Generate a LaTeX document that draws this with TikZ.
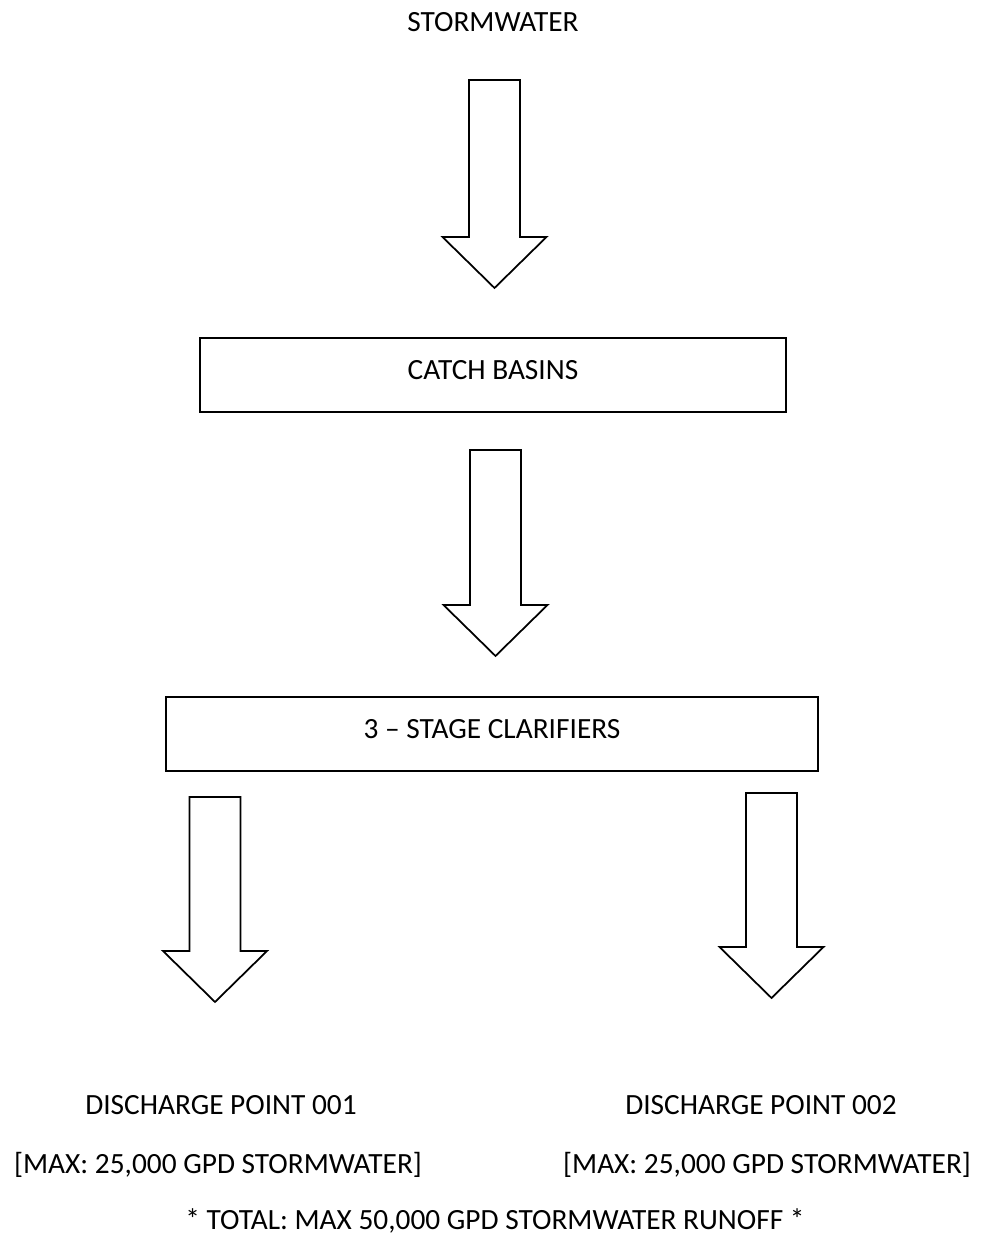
\documentclass[tikz,border=0pt]{standalone}
\usepackage{fontspec}
\setmainfont{Carlito}
\usetikzlibrary{calc}
\tikzset{
	box/.style={draw, line width=1pt, minimum height=1.48cm, inner sep=0pt, text height=0.4cm, text depth=0.23cm},
	flowarrow/.style={draw, line width=1pt, line join=miter},
	label/.style={inner sep=0pt}
}
% block arrow from top coordinate #1 down to tip coordinate #2
\newcommand{\blockarrow}[2]{%
	\draw[flowarrow] ($(#1)+(-0.51,0)$)--($(#2)+(-0.51,1.02)$)--($(#2)+(-1.04,1.02)$)--(#2)
		--($(#2)+(1.04,1.02)$)--($(#2)+(0.51,1.02)$)--($(#1)+(0.51,0)$)--cycle;}
\begin{document}
\begin{tikzpicture}[font=\fontsize{16.7}{20}\selectfont, line cap=round]
	\useasboundingbox (0,0) rectangle (19.6,24.78);
	\node[label] (storm) at (9.86,24.33) {STORMWATER};
	\node[box, minimum width=11.72cm] (catch) at (9.86,17.28) {CATCH BASINS};
	\node[box, minimum width=13.04cm] (clar) at (9.84,10.10) {3 -- STAGE CLARIFIERS};
	\node[label] (dpa) at (4.42,2.68) {DISCHARGE POINT 001};
	\node[label] (maxa) at (4.36,1.48) {[MAX: 25,000 GPD STORMWATER]};
	\node[label] (dpb) at (15.22,2.68) {DISCHARGE POINT 002};
	\node[label] (maxb) at (15.34,1.48) {[MAX: 25,000 GPD STORMWATER]};
	\node[label] (total) at (9.90,0.36) {* TOTAL: MAX 50,000 GPD STORMWATER RUNOFF *};
	% arrows
	\coordinate (T1) at (9.89,23.18);\coordinate (E1) at (9.89,19.02);
	\coordinate (T2) at (9.91,15.78);\coordinate (E2) at (9.91,11.66);
	\coordinate (T3) at (4.30,8.84);\coordinate (E3) at (4.30,4.74);
	\coordinate (T4) at (15.43,8.92);\coordinate (E4) at (15.43,4.82);
	\blockarrow{T1}{E1}
	\blockarrow{T2}{E2}
	\blockarrow{T3}{E3}
	\blockarrow{T4}{E4}
\end{tikzpicture}
\end{document}
